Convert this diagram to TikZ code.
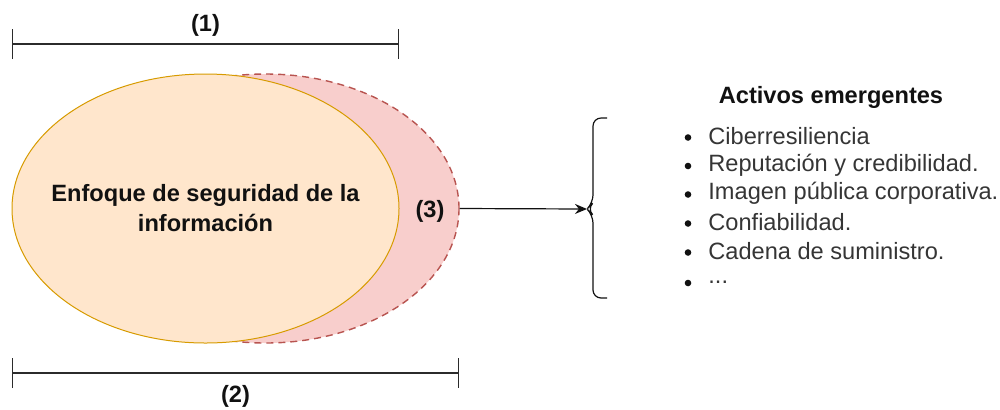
\documentclass[tikz,border=0pt]{standalone}
\usepackage{fontspec}
\setmainfont{Liberation Sans}
\usetikzlibrary{arrows.meta,positioning,shapes.geometric}
\definecolor{ink}{HTML}{111111}
\definecolor{rule}{HTML}{2B2B2B}
\definecolor{corefill}{HTML}{FFE6CC}
\definecolor{coredraw}{HTML}{D79B00}
\definecolor{extfill}{HTML}{F8CECC}
\definecolor{extdraw}{HTML}{B85450}
\tikzset{
  core/.style={ellipse, draw=coredraw, fill=corefill, line width=0.5pt,
               minimum width=193.5pt, minimum height=134.5pt, inner sep=0pt},
  ext/.style={ellipse, draw=extdraw, fill=extfill, line width=0.7pt,
              dash pattern=on 3.5pt off 2.5pt,
              minimum width=193.5pt, minimum height=134.5pt, inner sep=0pt},
  dimline/.style={{Bar[width=15pt]}-{Bar[width=15pt]}, line width=0.7pt, draw=rule},
  tag/.style={font=\fontsize{11.8}{15}\selectfont\bfseries, text=ink, inner sep=1pt},
  ch/.style={-{Stealth[length=6pt, width=5pt]}, line width=0.6pt, draw=ink},
  itm/.style={anchor=west, inner sep=0pt, text=ink!85},
  dot/.style={circle, fill=ink, inner sep=0pt, minimum size=3.3pt},
}

\begin{document}
\begin{tikzpicture}[x=0.5pt, y=-0.5pt, font=\fontsize{11.8}{15}\selectfont]
    \useasboundingbox (0,0) rectangle (1000,409);
    % the two regions: outer dashed one, inner one on top
    \node[ext] (outer) at (265.5,208.5) {};
    \node[core] (inner) at (205.5,208.5) {};
    \node[tag, align=center] (lbl) at (inner.center) {Enfoque de seguridad de la\\información};
    \node[tag] (t3) at (430,211) {(3)};

    % dimension lines
    \coordinate (d1a) at (12,44);  \coordinate (d1b) at (399,44);
    \coordinate (d2a) at (12,373); \coordinate (d2b) at (459,373);
    \draw[dimline] (d1a) -- (d1b);
    \draw[dimline] (d2a) -- (d2b);
    \node[tag] (t1) at (205.5,25) {(1)};
    \node[tag] (t2) at (235.5,396) {(2)};

    % brace grouping the list
    \coordinate (tip) at (587,209);
    \draw[line width=0.6pt, draw=ink, rounded corners=4pt]
      (607,118) -- (593,118) -- (593,203) -- (tip) -- (593,215) -- (593,298) -- (607,298);
    \draw[ch] (outer.east) -- (tip);

    % list of emerging assets
    \node[tag] (title) at (831,97) {Activos emergentes};
    \foreach \y/\txt [count=\i] in {136.5/Ciberresiliencia,
        165/Reputación y credibilidad.,
        193.5/Imagen pública corporativa.,
        222.5/Confiabilidad.,
        251.5/Cadena de suministro.,
        282/{.{}.{}.}} {
      \node[dot] (b\i) at (688,\y+1) {};
      \node[itm] (i\i) at (708,\y) {\txt};
    }
  \end{tikzpicture}
\end{document}
